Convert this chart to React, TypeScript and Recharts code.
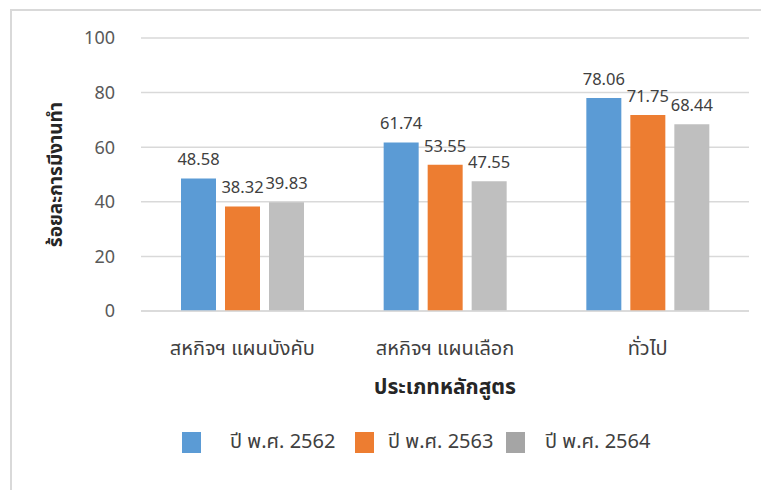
import { BarChart, Bar, CartesianGrid, XAxis, YAxis, Legend, LabelList, Label } from "recharts";

const categories = ["สหกิจฯ แผนบังคับ", "สหกิจฯ แผนเลือก", "ทั่วไป"];
const y2562 = [48.58, 61.74, 78.06];
const y2563 = [38.32, 53.55, 71.75];
const y2564 = [39.83, 47.55, 68.44];
const yTicks = [0, 20, 40, 60, 80, 100];

const series = [
    { key: "y2562", name: "ปี พ.ศ. 2562", color: "#5B9BD5", legendColor: "#5B9BD5" },
    { key: "y2563", name: "ปี พ.ศ. 2563", color: "#ED7D31", legendColor: "#ED7D31" },
    { key: "y2564", name: "ปี พ.ศ. 2564", color: "#BFBFBF", legendColor: "#A5A5A5" },
];

const data = categories.map((name, i) => ({
    name,
    y2562: y2562[i],
    y2563: y2563[i],
    y2564: y2564[i],
}));

const font = "'Noto Sans', 'Noto Sans Thai', Tahoma, sans-serif";

// legend spacing in the original is a bit uneven, keep it close
const textGaps = [29, 14, 20];
const itemGaps = [0, 15, 8];

const MyLegend = () => (
    <div style={{ display: "flex", alignItems: "center", fontFamily: font, fontSize: 20, color: "#404040", height: 26 }}>
        {series.map((s, i) => (
            <div key={s.key} style={{ display: "flex", alignItems: "center", marginLeft: itemGaps[i] }}>
                <span style={{ display: "inline-block", width: 19, height: 21, background: s.legendColor }} />
                <span style={{ marginLeft: textGaps[i], width: 110, whiteSpace: "nowrap" }}>{s.name}</span>
            </div>
        ))}
    </div>
);

export default function App() {
    return (
        <div style={{ position: "absolute", left: 0, top: 0, width: 761, height: 490, background: "#fff", overflow: "hidden" }}>
            <div style={{ position: "absolute", left: 10, top: 9, width: 760, height: 490, border: "2px solid #d9d9d9", boxSizing: "border-box" }} />
            <BarChart
                width={761}
                height={490}
                data={data}
                margin={{ top: 38, right: 12, left: 0, bottom: 35 }}
                barCategoryGap={40}
                barGap={9}
                style={{ fontFamily: font }}
            >
                <CartesianGrid vertical={false} stroke="#d9d9d9" strokeWidth={1.5} />
                <XAxis
                    dataKey="name"
                    height={118}
                    axisLine={{ stroke: "#d9d9d9", strokeWidth: 1.5 }}
                    tickLine={false}
                    tickMargin={24}
                    tick={{ fill: "#404040", fontSize: 20 }}
                >
                    <Label value="ประเภทหลักสูตร" position="insideTop" dy={63} style={{ fill: "#262626", fontSize: 21, fontWeight: "bold" }} />
                </XAxis>
                <YAxis
                    width={141}
                    domain={[0, 100]}
                    ticks={yTicks}
                    axisLine={false}
                    tickLine={false}
                    tickMargin={20}
                    tick={{ fill: "#595959", fontSize: 18 }}
                >
                    <Label value="ร้อยละการมีงานทำ" angle={-90} position="center" dx={-15} style={{ fill: "#262626", fontSize: 19, fontWeight: "bold", textAnchor: "middle" }} />
                </YAxis>
                <Legend verticalAlign="bottom" content={<MyLegend />} wrapperStyle={{ bottom: 35, left: 182, width: 500 }} />
                {series.map((s) => (
                    <Bar key={s.key} dataKey={s.key} name={s.name} fill={s.color} isAnimationActive={false}>
                        <LabelList dataKey={s.key} position="top" offset={13} style={{ fill: "#404040", fontSize: 16.5 }} />
                    </Bar>
                ))}
            </BarChart>
        </div>
    );
}
